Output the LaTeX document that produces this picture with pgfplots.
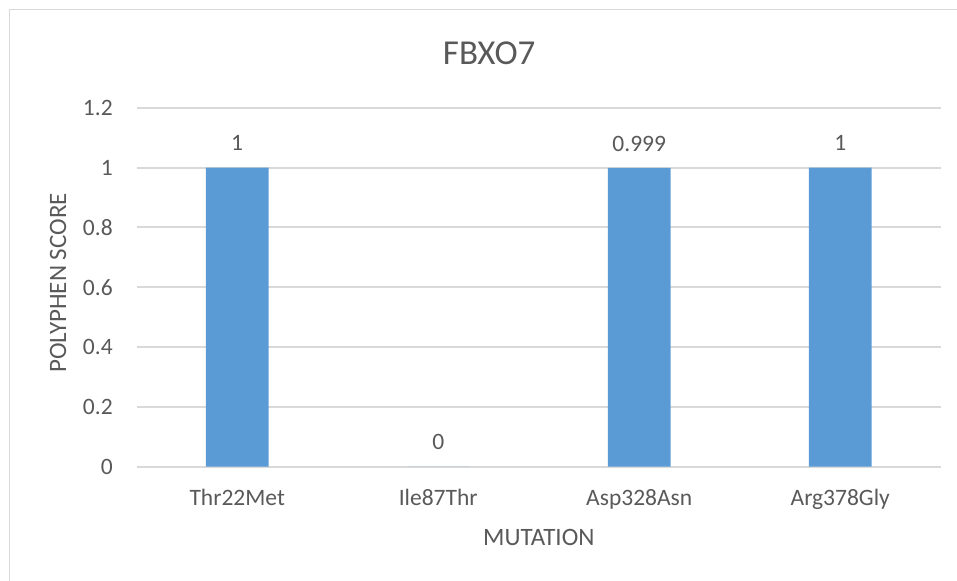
\documentclass[border=0pt]{standalone}
\usepackage{pgfplots}
\pgfplotsset{compat=1.18}
\usepackage{fontspec}
\setmainfont{Carlito}
\definecolor{txt}{HTML}{595959}
\definecolor{gridc}{HTML}{D9D9D9}
\definecolor{barc}{HTML}{5B9BD5}
\begin{document}
\begin{tikzpicture}[x=0.4pt,y=0.4pt]
\useasboundingbox (0,0) rectangle (957,580);
\draw[gridc, line width=0.5pt] (9.5,-20) -- (9.5,570.5) -- (980,570.5);
\begin{axis}[
  at={(54.68pt,45.32pt)}, anchor=south west,
  scale only axis, width=321.6pt, height=143.6pt,
  ybar, bar width=25.04pt,
  xmin=-0.5, xmax=3.5, ymin=0, ymax=1.2,
  xtick={0,1,2,3},
  xticklabels={Thr22Met,Ile87Thr,Asp328Asn,Arg378Gly},
  ytick={0,0.2,0.4,0.6,0.8,1,1.2},
  axis line style={draw=none},
  major tick length=0pt,
  ymajorgrids,
  grid style={gridc, line width=0.8pt},
  /pgf/number format/assume math mode=true,
  tick label style={font=\fontsize{9.4}{11}\selectfont, text=txt},
  yticklabel style={anchor=east, inner sep=0pt, xshift=-9.4pt},
  xticklabel style={anchor=base, inner sep=0pt, yshift=-15.7pt},
  nodes near coords={\pgfmathprintnumber[precision=3,assume math mode=true]{\pgfplotspointmeta}},
  nodes near coords align={anchor=base},
  every node near coord/.append style={anchor=base, inner sep=0pt, yshift=6.7pt, font=\fontsize{9.4}{11}\selectfont, text=txt},
  clip=false,
]
\addplot[fill=barc, draw=none] coordinates {(0,1) (1,0) (2,0.999) (3,1)};
\end{axis}
\node[anchor=base, inner sep=0pt, font=\fontsize{14}{17}\selectfont, text=txt] at (489.2,515) {FBXO7};
\node[anchor=base, inner sep=0pt, rotate=90, font=\fontsize{10}{12}\selectfont, text=txt] at (66,297.1) {POLYPHEN SCORE};
\node[anchor=base, inner sep=0pt, font=\fontsize{10}{12}\selectfont, text=txt] at (538.8,35) {MUTATION};
\end{tikzpicture}
\end{document}
